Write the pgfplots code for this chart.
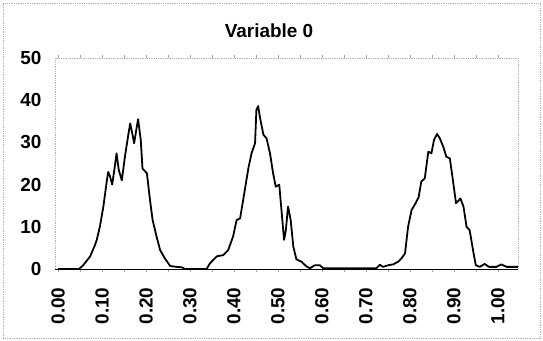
\documentclass[border=0pt]{standalone}
\usepackage{pgfplots}
\pgfplotsset{compat=1.18}
\usepackage{fontspec}
\setmainfont{Liberation Sans}
\begin{document}
\begin{tikzpicture}
\useasboundingbox (0,0) rectangle (543bp,341bp);
\draw[gray!60, densely dotted, line width=0.8pt] (3bp,3bp) rectangle (540bp,338bp);
\node[font=\fontsize{19}{21}\selectfont\bfseries] at (269bp,310bp) {Variable 0};
\begin{axis}[
  at={(55bp,72bp)}, anchor=south west,
  scale only axis, width=463bp, height=211bp,
  xmin=-0.007, xmax=1.046, ymin=0, ymax=50,
  axis line style={gray!60, densely dotted, line width=0.8pt},
  xtick={0,0.1,...,1.01}, minor x tick num=1,
  ytick={0,10,20,30,40,50},
  tick align=outside, tick style={gray!70, line width=0.5pt},
  major tick length=3bp, minor tick length=3bp,
  ytick style={draw=none},
  xticklabel style={rotate=90, anchor=east, font=\fontsize{19}{21}\selectfont\bfseries},
  yticklabel style={font=\fontsize{19}{21}\selectfont\bfseries},
  xticklabel shift=12bp, yticklabel shift=7bp,
  /pgf/number format/assume math mode=true,
  xticklabel={\pgfmathprintnumber[fixed, fixed zerofill, precision=2]{\tick}},
  clip=false,
]
\addplot[black, line width=1.8pt, line join=round] coordinates {
(0.000,0) (0.048,0) (0.058,1) (0.073,3) (0.084,5.7) (0.088,6.9) (0.095,10) (0.103,14.8)
(0.111,21) (0.114,23) (0.118,22) (0.123,20) (0.128,23.5) (0.133,27.4) (0.138,23.5)
(0.145,21) (0.152,26.6) (0.160,32) (0.164,34.5) (0.169,32) (0.173,29.8) (0.179,33.7)
(0.182,35.5) (0.188,30.6) (0.192,23.8) (0.202,22.7) (0.209,16.4) (0.215,11.6) (0.224,7.7)
(0.232,4.5) (0.243,2.5) (0.255,0.7) (0.270,0.5) (0.281,0.4) (0.289,0) (0.338,0)
(0.345,1.3) (0.361,3) (0.376,3.3) (0.387,4.5) (0.398,7.7) (0.406,11.6) (0.414,12)
(0.421,16.4) (0.433,24) (0.440,27.4) (0.448,29.8) (0.451,37.7) (0.455,38.6) (0.459,36)
(0.467,31.8) (0.474,31) (0.482,27.4) (0.489,22.7) (0.495,19.5) (0.503,20) (0.508,14)
(0.514,6.9) (0.518,9.2) (0.523,14.8) (0.529,11.6) (0.535,5.3) (0.542,2.3) (0.554,1.7)
(0.565,0.6) (0.573,0.2) (0.584,0.9) (0.595,0.9) (0.603,0.2) (0.724,0.2)
(0.732,1) (0.739,0.5) (0.751,0.9) (0.762,1.1) (0.773,1.7) (0.781,2.5) (0.789,3.7)
(0.796,10) (0.804,14) (0.811,15.2) (0.820,17) (0.826,20.7) (0.834,21.5) (0.842,27.8)
(0.849,27.4) (0.855,30.6) (0.862,32) (0.868,31) (0.876,29) (0.883,26.6) (0.891,26.2)
(0.898,21) (0.905,15.6) (0.909,16) (0.915,16.7) (0.922,14.8) (0.929,10) (0.936,9.2)
(0.945,3.7) (0.950,0.9) (0.959,0.5) (0.970,1.2) (0.980,0.5) (0.997,0.5) (1.008,1.1)
(1.020,0.5) (1.046,0.5)
};
\draw[black, line width=1pt] (axis cs:-0.007,0) -- (axis cs:1.046,0);
\end{axis}
\end{tikzpicture}
\end{document}
